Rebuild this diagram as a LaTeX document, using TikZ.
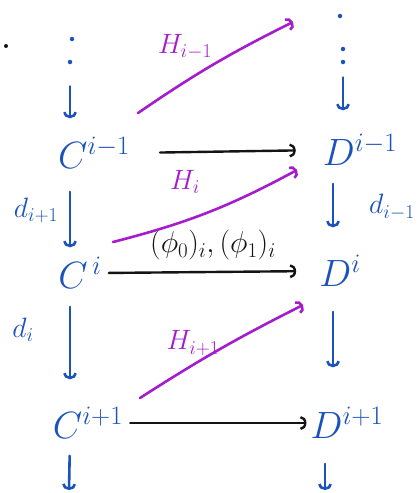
\RequirePackage{fix-cm}
\documentclass[tikz,border=0pt]{standalone}
\usepackage{tikz}
\usetikzlibrary{arrows.meta,calc}
\definecolor{inkblue}{RGB}{28,82,188}
\definecolor{inkpurple}{RGB}{165,28,205}
\definecolor{inkblack}{RGB}{20,20,20}
\tikzset{
  obj/.style={text=inkblue,inner sep=0pt,font=\fontsize{38}{44}\selectfont},
  dlab/.style={text=inkblue,inner sep=0pt,font=\fontsize{28}{32}\selectfont},
  hlab/.style={text=inkpurple,inner sep=0pt,font=\fontsize{28}{32}\selectfont},
  flab/.style={text=inkblack,inner sep=0pt,font=\fontsize{30}{34}\selectfont},
  vdot/.style={circle,fill=inkblue,inner sep=0pt,minimum size=4.5pt},
  diff/.style={-{Arc Barb[length=6pt,width=14pt]},draw=inkblue,line width=2.6pt,
               line cap=round},
  mor/.style={-{Arc Barb[length=6pt,width=14pt]},draw=inkblack,line width=2.4pt,
              line cap=round},
  homot/.style={-{Arc Barb[length=6pt,width=14pt]},draw=inkpurple,line width=2.6pt,
                line cap=round},
}

\begin{document}
\begin{tikzpicture}[x=1pt,y=-1pt]
  \useasboundingbox (0,0) rectangle (420,493);
  % --- stray mark
  \fill[inkblack] (6,46) circle (2pt);
  % --- the two complexes
  \node[obj] (cm) at (94,153) {$C^{i-1}$};
  \node[obj] (ci) at (80,273) {$C^{\,i}$};
  \node[obj] (cp) at (88,423) {$C^{i+1}$};
  \node[obj] (dm) at (360,150) {$D^{i-1}$};
  \node[obj] (di) at (340,271) {$D^{i}$};
  \node[obj] (dp) at (347,423) {$D^{i+1}$};
  % --- dots above
  \node[vdot] (lc1) at (72,39) {};
  \node[vdot] (lc2) at (70,62) {};
  \node[vdot] (rc1) at (340,16) {};
  \node[vdot] (rc2) at (343,49) {};
  \node[vdot] (rc3) at (343,62) {};
  \coordinate (lcol) at (70,0);
  \coordinate (rcol) at (333,0);
  \coordinate (cbot) at (69,490);
  \coordinate (dbot) at (325,490);
  % --- differentials
  \draw[diff,shorten <=22pt,shorten >=19pt] (lc2) -- (lc2 |- cm.north);
  \draw[diff,shorten <=23pt,shorten >=10pt] (cm.south -| lcol) -- (ci.north -| lcol);
  \draw[diff,shorten <=18pt,shorten >=28pt] (ci.south -| lcol) -- (cp.north -| lcol);
  \draw[diff,shorten <=17pt] (cp.south -| lcol) -- (cbot);
  \draw[diff,shorten <=13pt,shorten >=24pt] (rc3) -- (rc3 |- dm.north);
  \draw[diff,shorten <=18pt,shorten >=28pt] (dm.south -| rcol) -- (di.north -| rcol);
  \draw[diff,shorten <=25pt,shorten >=40pt] (di.south -| rcol) -- (dp.north -| rcol);
  \draw[diff,shorten <=25pt] (dp.south -| dbot) -- (dbot);
  \node[dlab] (ld0) at (36,210) {$d_{i+1}$};
  \node[dlab] (ld1) at (23,330) {$d_i$};
  \node[dlab] (ld2) at (392,207) {$d_{i-1}$};
  % --- chain maps
  \draw[mor,shorten <=30pt,shorten >=27pt] (cm.east) -- (dm.west);
  \draw[mor,shorten <=7pt,shorten >=23pt] (ci.east) -- (di.west);
  \draw[mor,shorten <=7pt,shorten >=4pt] (cp.east) -- (dp.west);
  \node[flab] (lf) at (213,245) {$(\phi_0)_i,(\phi_1)_i$};
  % --- homotopies
  \coordinate (h0a) at (138,113); \coordinate (h0b) at (293,22);
  \coordinate (h1a) at (113,242); \coordinate (h1b) at (297,170);
  \coordinate (h2a) at (140,398); \coordinate (h2b) at (303,305);
  \draw[homot] (h0a) to[bend left=4] (h0b);
  \draw[homot] (h1a) to[bend right=7] (h1b);
  \draw[homot] (h2a) to[bend left=3] (h2b);
  \node[hlab] (lh0) at (185,47) {$H_{i-1}$};
  \node[hlab] (lh1) at (185,182) {$H_i$};
  \node[hlab] (lh2) at (193,343) {$H_{i+1}$};
\end{tikzpicture}
\end{document}
